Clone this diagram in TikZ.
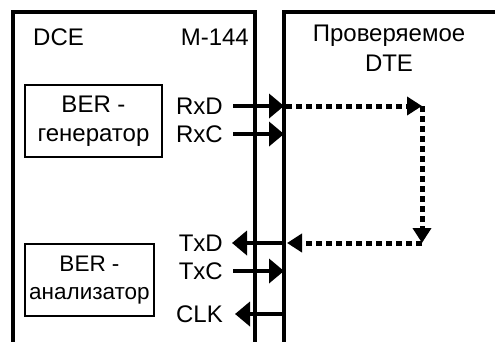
\documentclass[tikz,border=0pt]{standalone}
\usepackage{fontspec}
\setmainfont{Liberation Sans}
\usetikzlibrary{arrows.meta,positioning,calc}

\tikzset{
    frameline/.style={line width=4pt, line join=miter},
    berbox/.style={draw, line width=1.3pt, minimum width=137pt, minimum height=72pt, align=center, inner sep=0pt},
    siglabel/.style={anchor=east, inner sep=0pt},
    sigarrow/.style={line width=4pt, -{Triangle[length=15pt,width=24pt]}},
    loopback/.style={line width=5pt, dash pattern=on 6pt off 4pt, -{Triangle[length=15pt,width=18pt]}}
}

\begin{document}
\begin{tikzpicture}[x=1pt, y=-1pt, font=\fontsize{24}{29.5}\selectfont]
    \useasboundingbox (0,0) rectangle (495,341);

    \draw[frameline] (13,343) |- (255,12) -- (255,343);
    \draw[frameline] (284,343) |- (497,12);
    \coordinate (dteL) at (284,0);

    \node[anchor=west, inner sep=0pt] (dce) at (33,37) {DCE};
    \node[anchor=east, inner sep=0pt] (m144) at (249,37) {M-144};
    \node[align=center, inner sep=0pt] (dte) at (389,48) {Проверяемое\\DTE};

    \node[berbox] (gen) at (93.5,121) {BER -\\генератор};
    \node[berbox, minimum width=129pt, font=\fontsize{22.5}{28}\selectfont] (ana) at (89.5,280) {BER -\\анализатор};

    \node[siglabel] (rxd) at (223,106) {RxD};
    \node[siglabel] (rxc) at (223,134) {RxC};
    \node[siglabel] (txd) at (223,243) {TxD};
    \node[siglabel] (txc) at (223,271) {TxC};
    \node[siglabel] (clk) at (223,314) {CLK};

    \draw[sigarrow] ([xshift=10pt]rxd.east) -- (rxd -| dteL);
    \draw[sigarrow] ([xshift=10pt]rxc.east) -- (rxc -| dteL);
    \draw[sigarrow] ([xshift=-2pt]txd -| dteL) -- ([xshift=9pt]txd.east);
    \draw[sigarrow] ([xshift=10pt]txc.east) -- (txc -| dteL);
    \draw[sigarrow] (clk -| dteL) -- ([xshift=12pt]clk.east);

    \coordinate (turnA) at (422,106);
    \coordinate (turnB) at (422,243);
    \draw[loopback] ([xshift=2pt]rxd -| dteL) -- (turnA);
    \draw[loopback] (turnA) -- (turnB);
    \draw[loopback] (turnB) -- ([xshift=3pt]txd -| dteL);
\end{tikzpicture}
\end{document}
